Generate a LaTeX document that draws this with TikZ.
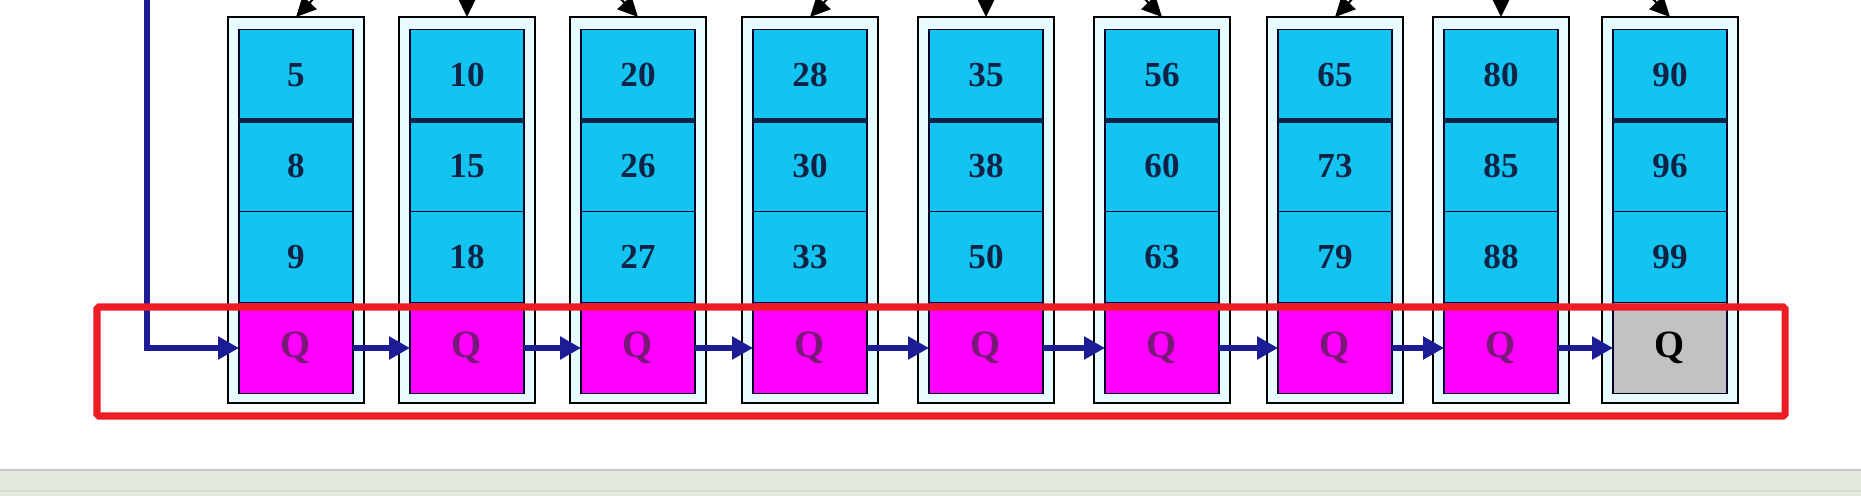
\documentclass[tikz,border=0pt]{standalone}
\usepackage{fontspec}
\setmainfont{Liberation Serif}
\usetikzlibrary{arrows.meta}

\definecolor{cellblue}{RGB}{20,196,240}
\definecolor{qpink}{RGB}{255,0,255}
\definecolor{qgray}{RGB}{194,194,194}
\definecolor{boxbg}{RGB}{232,251,255}
\definecolor{linknavy}{RGB}{28,28,150}
\definecolor{numnavy}{RGB}{15,35,70}
\definecolor{qpurple}{RGB}{120,25,120}
\definecolor{framered}{RGB}{237,28,36}
\definecolor{bandgreen}{RGB}{226,234,222}

\tikzset{
  stackbox/.style={draw=black, line width=1.1pt, fill=boxbg, minimum width=2.72cm,
    minimum height=7.72cm, inner sep=0pt, outer sep=0pt},
  keycell/.style={draw=black!85!blue, line width=1.1pt, fill=cellblue, minimum width=2.28cm,
    minimum height=1.82cm, inner sep=0pt, outer sep=0pt, text=numnavy,
    font=\fontsize{20}{20}\selectfont\bfseries},
  qcell/.style={keycell, fill=qpink, text=qpurple, font=\fontsize{22}{22}\selectfont\bfseries},
  lastq/.style={keycell, fill=qgray, text=black, font=\fontsize{22}{22}\selectfont\bfseries},
  qarrow/.style={draw=linknavy, line width=3pt, -{Triangle[length=0.42cm,width=0.44cm]}},
  childarrow/.style={draw=black, line width=1.2pt, -{Triangle[length=0.4cm,width=0.38cm]}},
  divider/.style={draw=numnavy, line width=2.6pt},
}

\begin{document}
\begin{tikzpicture}[x=0.02cm, y=-0.02cm]
    \useasboundingbox (0,0) rectangle (1861,496);
    \clip (0,0) rectangle (1861,496);

    % Outer boxes
    \node[stackbox] (b1) at (296,210) {};
    \node[stackbox] (b2) at (467,210) {};
    \node[stackbox] (b3) at (638,210) {};
    \node[stackbox] (b4) at (810,210) {};
    \node[stackbox] (b5) at (986,210) {};
    \node[stackbox] (b6) at (1162,210) {};
    \node[stackbox] (b7) at (1335,210) {};
    \node[stackbox] (b8) at (1501,210) {};
    \node[stackbox] (b9) at (1670,210) {};

    % Column 1
    \node[keycell] (k11) at (296,75) {5};
    \node[keycell] (k12) at (296,166) {8};
    \node[keycell] (k13) at (296,257) {9};
    \node[qcell] (q1) at (296,348) {Q};

    % Column 2
    \node[keycell] (k21) at (467,75) {10};
    \node[keycell] (k22) at (467,166) {15};
    \node[keycell] (k23) at (467,257) {18};
    \node[qcell] (q2) at (467,348) {Q};

    % Column 3
    \node[keycell] (k31) at (638,75) {20};
    \node[keycell] (k32) at (638,166) {26};
    \node[keycell] (k33) at (638,257) {27};
    \node[qcell] (q3) at (638,348) {Q};

    % Column 4
    \node[keycell] (k41) at (810,75) {28};
    \node[keycell] (k42) at (810,166) {30};
    \node[keycell] (k43) at (810,257) {33};
    \node[qcell] (q4) at (810,348) {Q};

    % Column 5
    \node[keycell] (k51) at (986,75) {35};
    \node[keycell] (k52) at (986,166) {38};
    \node[keycell] (k53) at (986,257) {50};
    \node[qcell] (q5) at (986,348) {Q};

    % Column 6
    \node[keycell] (k61) at (1162,75) {56};
    \node[keycell] (k62) at (1162,166) {60};
    \node[keycell] (k63) at (1162,257) {63};
    \node[qcell] (q6) at (1162,348) {Q};

    % Column 7
    \node[keycell] (k71) at (1335,75) {65};
    \node[keycell] (k72) at (1335,166) {73};
    \node[keycell] (k73) at (1335,257) {79};
    \node[qcell] (q7) at (1335,348) {Q};

    % Column 8
    \node[keycell] (k81) at (1501,75) {80};
    \node[keycell] (k82) at (1501,166) {85};
    \node[keycell] (k83) at (1501,257) {88};
    \node[qcell] (q8) at (1501,348) {Q};

    % Column 9
    \node[keycell] (k91) at (1670,75) {90};
    \node[keycell] (k92) at (1670,166) {96};
    \node[keycell] (k93) at (1670,257) {99};
    \node[lastq] (q9) at (1670,348) {Q};

    % Thicker line under the first cell
    \draw[divider] (k11.south west) -- (k11.south east);
    \draw[divider] (k21.south west) -- (k21.south east);
    \draw[divider] (k31.south west) -- (k31.south east);
    \draw[divider] (k41.south west) -- (k41.south east);
    \draw[divider] (k51.south west) -- (k51.south east);
    \draw[divider] (k61.south west) -- (k61.south east);
    \draw[divider] (k71.south west) -- (k71.south east);
    \draw[divider] (k81.south west) -- (k81.south east);
    \draw[divider] (k91.south west) -- (k91.south east);

    % Arrows coming in from above
    \coordinate (p1) at (336,-25);
    \coordinate (p2) at (467,-25);
    \coordinate (p3) at (598,-25);
    \coordinate (p4) at (850,-25);
    \coordinate (p5) at (986,-25);
    \coordinate (p6) at (1122,-25);
    \coordinate (p7) at (1375,-25);
    \coordinate (p8) at (1501,-25);
    \coordinate (p9) at (1630,-25);
    \draw[childarrow] (p1) -- (b1.north);
    \draw[childarrow] (p2) -- (b2.north);
    \draw[childarrow] (p3) -- (b3.north);
    \draw[childarrow] (p4) -- (b4.north);
    \draw[childarrow] (p5) -- (b5.north);
    \draw[childarrow] (p6) -- (b6.north);
    \draw[childarrow] (p7) -- (b7.north);
    \draw[childarrow] (p8) -- (b8.north);
    \draw[childarrow] (p9) -- (b9.north);

    % Q chain
    \coordinate (head) at (147,-25);
    \draw[qarrow] (head) |- (q1.west);
    \draw[qarrow] (q1.east) -- (q2.west);
    \draw[qarrow] (q2.east) -- (q3.west);
    \draw[qarrow] (q3.east) -- (q4.west);
    \draw[qarrow] (q4.east) -- (q5.west);
    \draw[qarrow] (q5.east) -- (q6.west);
    \draw[qarrow] (q6.east) -- (q7.west);
    \draw[qarrow] (q7.east) -- (q8.west);
    \draw[qarrow] (q8.east) -- (q9.west);

    % Red highlight frame
    \draw[framered, line width=4pt, rounded corners=1pt] (97,307) rectangle (1785,416);

    % Bottom band
    \fill[bandgreen] (0,470) rectangle (1861,496);
    \draw[black!22, line width=0.8pt] (0,470) -- (1861,470);
    \draw[black!15, line width=0.6pt] (0,491) -- (1861,491);
\end{tikzpicture}
\end{document}
